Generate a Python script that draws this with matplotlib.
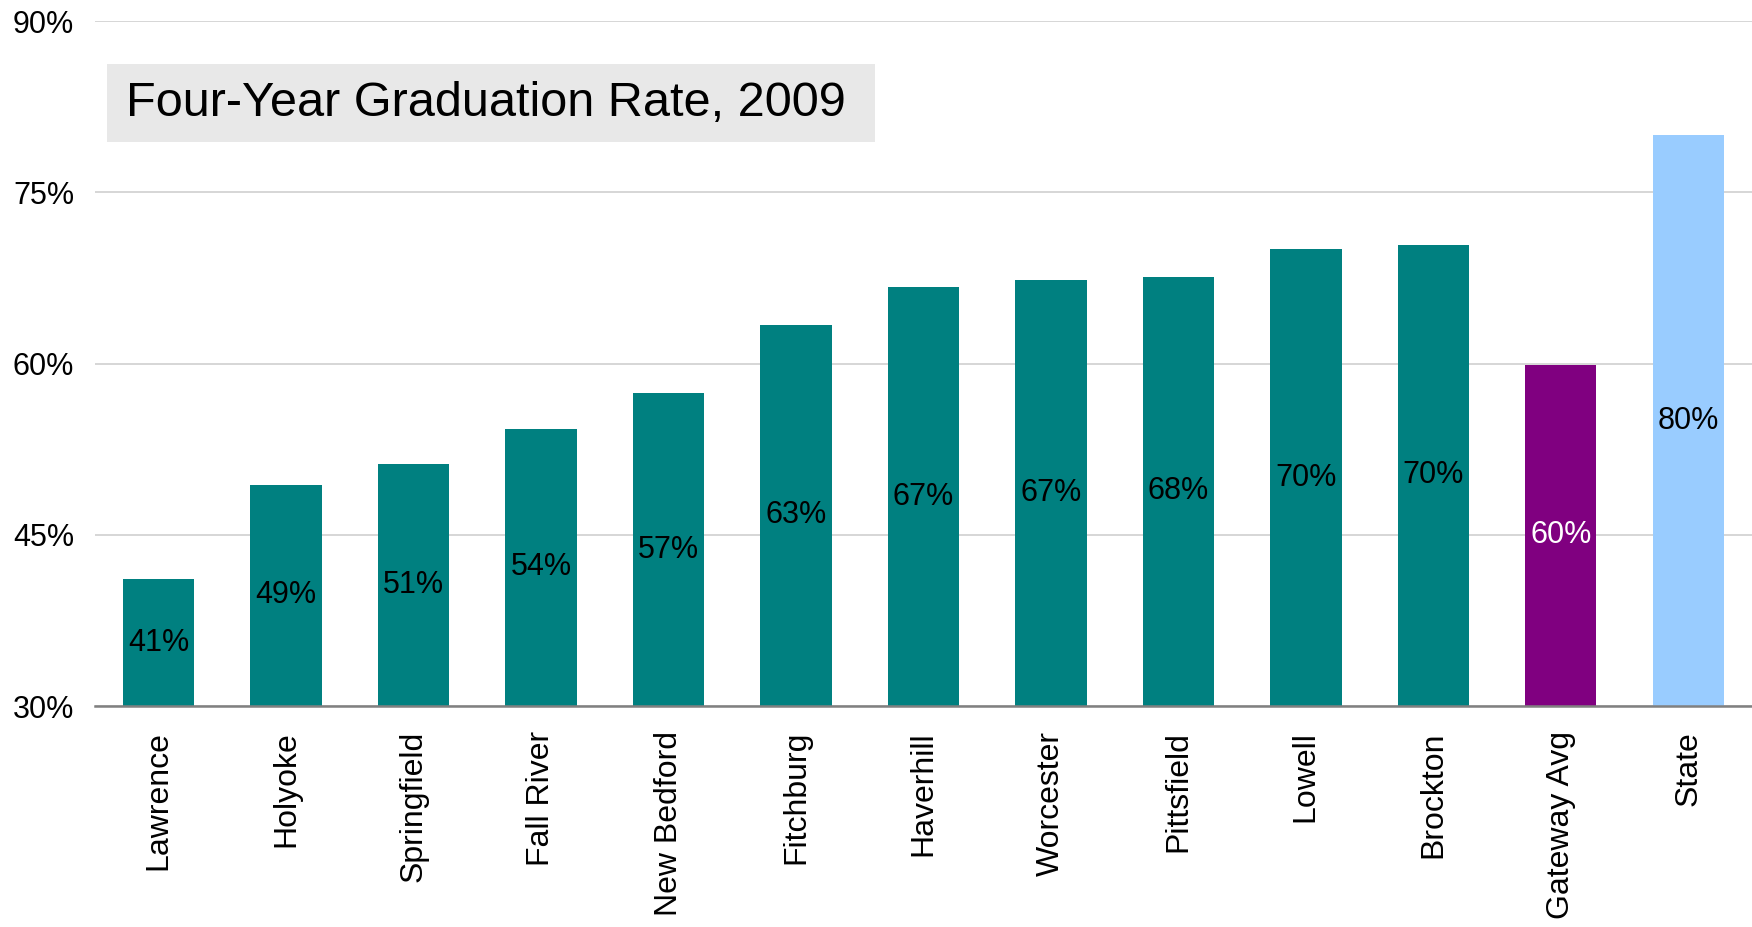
import matplotlib.pyplot as plt
from matplotlib.patches import Rectangle
from matplotlib.ticker import FuncFormatter

plt.rcParams["font.family"] = ["Liberation Sans", "DejaVu Sans"]

# data
cities = ["Lawrence", "Holyoke", "Springfield", "Fall River", "New Bedford",
          "Fitchburg", "Haverhill", "Worcester", "Pittsfield", "Lowell",
          "Brockton", "Gateway Avg", "State"]
rates = [41.1, 49.4, 51.2, 54.3, 57.4, 63.4, 66.7, 67.3, 67.6, 70.0, 70.4, 59.9, 80.0]
bar_colors = ["#008080"] * 11 + ["#800080", "#99ccff"]
label_colors = ["black"] * 11 + ["white", "black"]

fig = plt.figure(figsize=(17.52, 9.27), dpi=100)
ax = fig.add_axes([0.0542, 0.2384, 0.9458, 0.7389])

base = 30
x = range(len(cities))
bars = ax.bar(x, [r - base for r in rates], bottom=base, width=0.56,
              color=bar_colors, zorder=2)

# value labels in the middle of each bar
for bar, val, col in zip(bars, rates, label_colors):
    ax.text(bar.get_x() + bar.get_width() / 2, (base + val) / 2,
            f"{val:.0f}%", ha="center", va="center", fontsize=22,
            color=col, zorder=3)

ax.set_xlim(-0.5, len(cities) - 0.5)
ax.set_ylim(30, 90)
ax.set_yticks([30, 45, 60, 75, 90])
ax.yaxis.set_major_formatter(FuncFormatter(lambda v, p: f"{v:.0f}%"))
ax.tick_params(axis="y", length=0, labelsize=22, pad=15)
ax.tick_params(axis="x", length=0, labelsize=23, pad=18)
ax.set_xticks(list(x))
ax.set_xticklabels(cities, rotation=90, va="top", ha="center")

ax.grid(axis="y", color="#d0d0d0", linewidth=1.2, zorder=0)
ax.set_axisbelow(True)
for s in ["top", "right", "left"]:
    ax.spines[s].set_visible(False)
ax.spines["bottom"].set_color("#808080")
ax.spines["bottom"].set_linewidth(1.8)
ax.spines["bottom"].set_zorder(4)

# title box
fig.add_artist(Rectangle((107 / 1752, 1 - 142 / 927), 768 / 1752, 78 / 927,
                         transform=fig.transFigure, facecolor="#e8e8e8",
                         edgecolor="none", zorder=1))
fig.text(126 / 1752, 1 - 103 / 927, "Four-Year Graduation Rate, 2009",
         fontsize=35, va="center", ha="left", zorder=2)

plt.savefig("out.png", dpi=100)
plt.close()
